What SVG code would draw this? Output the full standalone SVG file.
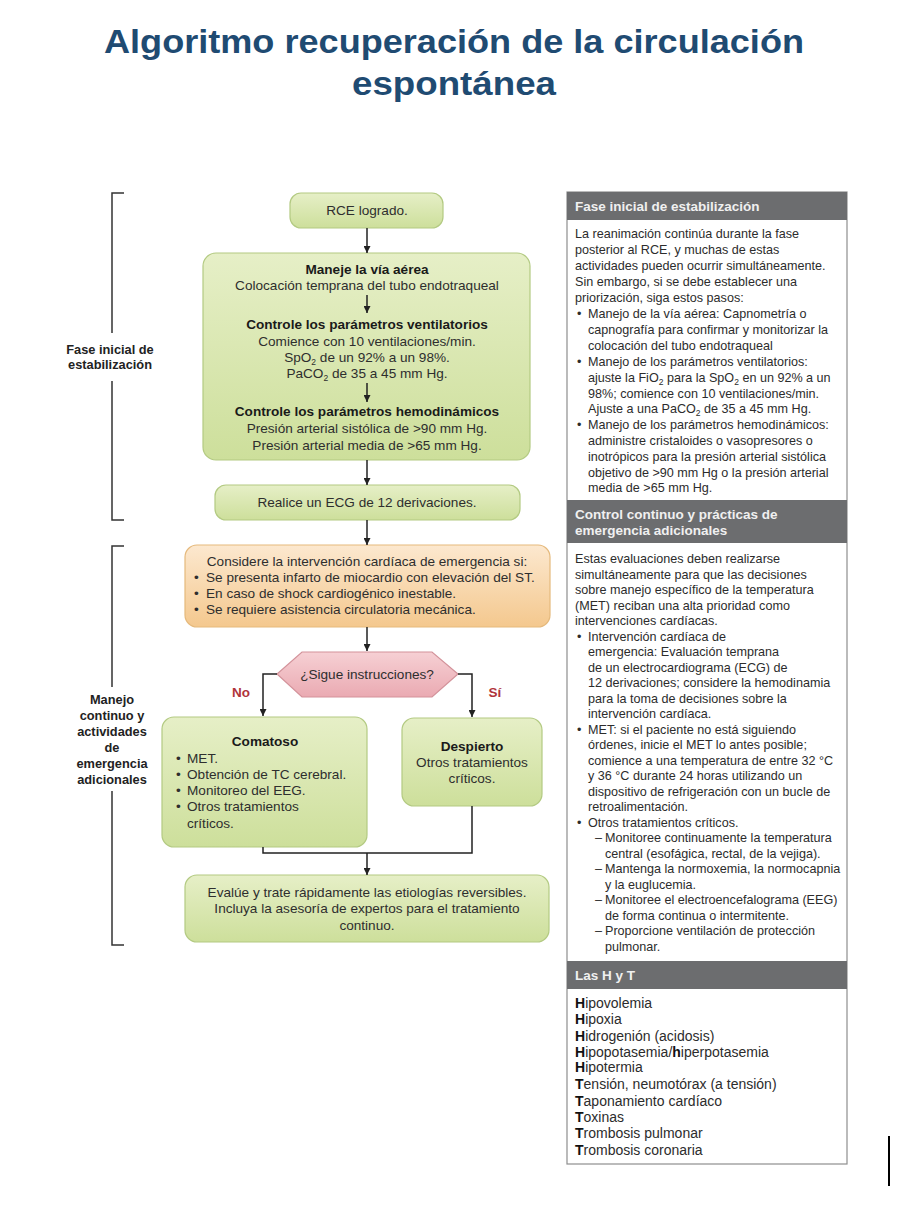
<svg xmlns="http://www.w3.org/2000/svg" width="922" height="1206" viewBox="0 0 922 1206">
<defs>
<style>
.t{font-family:"Liberation Sans",Arial,sans-serif;fill:#2e2e2e;font-size:13.6px}
.b{font-weight:bold;fill:#1a1a1a}
.c{text-anchor:middle}
.p{font-family:"Liberation Sans",Arial,sans-serif;fill:#2c2c2c;font-size:12.6px}
.ht{font-family:"Liberation Sans",Arial,sans-serif;fill:#2c2c2c;font-size:14px}
.hb{font-weight:bold;fill:#111}
.hd{font-family:"Liberation Sans",Arial,sans-serif;fill:#f0f0f0;font-size:13.5px;font-weight:bold}
.lbl{font-family:"Liberation Sans",Arial,sans-serif;fill:#222;font-size:12.8px;font-weight:bold;text-anchor:middle}
.sub{font-size:8.5px}
.conn{stroke:#222;stroke-width:1.5;fill:none}
.br{stroke:#333;stroke-width:1.5;fill:none}
.g{fill:url(#gg);stroke:#b3ca82;stroke-width:1.2}
.o{fill:url(#og);stroke:#e5b97c;stroke-width:1.2}
.k{fill:url(#pg);stroke:#d3929a;stroke-width:1.2}
.hdr{fill:#6c6d6f}
</style>
<linearGradient id="gg" x1="0" y1="0" x2="0" y2="1"><stop offset="0" stop-color="#e6efc7"/><stop offset="1" stop-color="#cddf9b"/></linearGradient>
<linearGradient id="og" x1="0" y1="0" x2="0" y2="1"><stop offset="0" stop-color="#fce8cf"/><stop offset="1" stop-color="#f4c88e"/></linearGradient>
<linearGradient id="pg" x1="0" y1="0" x2="0" y2="1"><stop offset="0" stop-color="#f6d0d4"/><stop offset="1" stop-color="#eaaab2"/></linearGradient>
<marker id="ah" viewBox="0 0 10 10" refX="10" refY="5" markerWidth="7" markerHeight="7" markerUnits="userSpaceOnUse" orient="auto"><path d="M0,0 L10,5 L0,10 z" fill="#222"/></marker>
</defs>
<rect width="922" height="1206" fill="#ffffff"/>

<g id="title" font-family="'Liberation Sans',Arial,sans-serif" font-weight="bold" font-size="33" fill="#1f4b72" text-anchor="middle">
<text x="454" y="53" textLength="700" lengthAdjust="spacingAndGlyphs">Algoritmo recuperación de la circulación</text>
<text x="454" y="95" textLength="204" lengthAdjust="spacingAndGlyphs">espontánea</text>
</g>

<g id="brackets">
<path class="br" d="M124,193 H112 V333 M112,381 V520 H124"/>
<text class="lbl" x="110" y="354">Fase inicial de</text>
<text class="lbl" x="110" y="369">estabilización</text>
<path class="br" d="M124,546 H112 V687 M112,791 V945 H124"/>
<text class="lbl" x="112" y="704">Manejo</text>
<text class="lbl" x="112" y="720">continuo y</text>
<text class="lbl" x="112" y="736">actividades</text>
<text class="lbl" x="112" y="752">de</text>
<text class="lbl" x="112" y="768">emergencia</text>
<text class="lbl" x="112" y="784">adicionales</text>
</g>

<g id="n-rce">
<rect class="g" x="290" y="193" width="153" height="35" rx="11"/>
<text class="t c" x="367" y="215">RCE logrado.</text>
</g>

<g id="n-manejo">
<rect class="g" x="203" y="253" width="327" height="207" rx="13"/>
<text class="t c b" x="367" y="274">Maneje la vía aérea</text>
<text class="t c" x="367" y="290">Colocación temprana del tubo endotraqueal</text>
<text class="t c b" x="367" y="329">Controle los parámetros ventilatorios</text>
<text class="t c" x="367" y="346">Comience con 10 ventilaciones/min.</text>
<text class="t c" x="367" y="362">SpO<tspan class="sub" dy="3">2</tspan><tspan dy="-3"> de un 92% a un 98%.</tspan></text>
<text class="t c" x="367" y="378">PaCO<tspan class="sub" dy="3">2</tspan><tspan dy="-3"> de 35 a 45 mm Hg.</tspan></text>
<text class="t c b" x="367" y="416">Controle los parámetros hemodinámicos</text>
<text class="t c" x="367" y="433">Presión arterial sistólica de &gt;90 mm Hg.</text>
<text class="t c" x="367" y="450">Presión arterial media de &gt;65 mm Hg.</text>
</g>

<g id="n-ecg">
<rect class="g" x="215" y="485" width="305" height="35" rx="11"/>
<text class="t c" x="367" y="507">Realice un ECG de 12 derivaciones.</text>
</g>

<g id="n-considere">
<rect class="o" x="185" y="545" width="365" height="82" rx="12"/>
<text class="t c" x="367" y="566">Considere la intervención cardíaca de emergencia si:</text>
<text class="t" x="194" y="582">•</text><text class="t" x="206" y="582">Se presenta infarto de miocardio con elevación del ST.</text>
<text class="t" x="194" y="598">•</text><text class="t" x="206" y="598">En caso de shock cardiogénico inestable.</text>
<text class="t" x="194" y="614">•</text><text class="t" x="206" y="614">Se requiere asistencia circulatoria mecánica.</text>
</g>

<g id="n-sigue">
<polygon class="k" points="302,652 432,652 458,674 432,697 302,697 277,674"/>
<text class="t c" x="367" y="679">¿Sigue instrucciones?</text>
</g>

<g id="n-comatoso">
<rect class="g" x="162" y="717" width="205" height="130" rx="12"/>
<text class="t c b" x="265" y="746">Comatoso</text>
<text class="t" x="176" y="763">•</text><text class="t" x="187" y="763">MET.</text>
<text class="t" x="176" y="779">•</text><text class="t" x="187" y="779">Obtención de TC cerebral.</text>
<text class="t" x="176" y="795">•</text><text class="t" x="187" y="795">Monitoreo del EEG.</text>
<text class="t" x="176" y="811">•</text><text class="t" x="187" y="811">Otros tratamientos</text>
<text class="t" x="187" y="828">críticos.</text>
</g>

<g id="n-despierto">
<rect class="g" x="402" y="718" width="140" height="88" rx="12"/>
<text class="t c b" x="472" y="751">Despierto</text>
<text class="t c" x="472" y="767">Otros tratamientos</text>
<text class="t c" x="472" y="783">críticos.</text>
</g>

<g id="n-evalue">
<rect class="g" x="185" y="875" width="364" height="67" rx="12"/>
<text class="t c" x="367" y="897">Evalúe y trate rápidamente las etiologías reversibles.</text>
<text class="t c" x="367" y="913">Incluya la asesoría de expertos para el tratamiento</text>
<text class="t c" x="367" y="930">continuo.</text>
</g>

<g id="connectors">
<line class="conn" x1="367" y1="228" x2="367" y2="253" marker-end="url(#ah)"/>
<line class="conn" x1="367" y1="295" x2="367" y2="313" marker-end="url(#ah)"/>
<line class="conn" x1="367" y1="383" x2="367" y2="402" marker-end="url(#ah)"/>
<line class="conn" x1="367" y1="460" x2="367" y2="485" marker-end="url(#ah)"/>
<line class="conn" x1="367" y1="520" x2="367" y2="545" marker-end="url(#ah)"/>
<line class="conn" x1="367" y1="627" x2="367" y2="651" marker-end="url(#ah)"/>
<path class="conn" d="M277,674 H263 V716" marker-end="url(#ah)"/>
<path class="conn" d="M458,674 H472 V717" marker-end="url(#ah)"/>
<path class="conn" d="M263,847 V853 H472 V806"/>
<line class="conn" x1="367" y1="853" x2="367" y2="875" marker-end="url(#ah)"/>
<text x="241" y="697" font-family="'Liberation Sans',Arial,sans-serif" font-size="13.5" font-weight="bold" fill="#b0333a" text-anchor="middle">No</text>
<text x="495" y="697" font-family="'Liberation Sans',Arial,sans-serif" font-size="13.5" font-weight="bold" fill="#b0333a" text-anchor="middle">Sí</text>
</g>

<g id="panel">
<rect x="567" y="192" width="280" height="972" fill="#ffffff" stroke="#8e8e8e" stroke-width="1.2"/>
<rect class="hdr" x="567" y="192" width="280" height="28"/>
<text class="hd" x="575" y="211">Fase inicial de estabilización</text>
<g class="p">
<text x="575" y="238">La reanimación continúa durante la fase</text>
<text x="575" y="254">posterior al RCE, y muchas de estas</text>
<text x="575" y="270">actividades pueden ocurrir simultáneamente.</text>
<text x="575" y="286">Sin embargo, si se debe establecer una</text>
<text x="575" y="302">priorización, siga estos pasos:</text>
<text x="577" y="318">•</text><text x="588" y="318">Manejo de la vía aérea: Capnometría o</text>
<text x="588" y="334">capnografía para confirmar y monitorizar la</text>
<text x="588" y="350">colocación del tubo endotraqueal</text>
<text x="577" y="366">•</text><text x="588" y="366">Manejo de los parámetros ventilatorios:</text>
<text x="588" y="382">ajuste la FiO<tspan class="sub" dy="3">2</tspan><tspan dy="-3"> para la SpO</tspan><tspan class="sub" dy="3">2</tspan><tspan dy="-3"> en un 92% a un</tspan></text>
<text x="588" y="398">98%; comience con 10 ventilaciones/min.</text>
<text x="588" y="413">Ajuste a una PaCO<tspan class="sub" dy="3">2</tspan><tspan dy="-3"> de 35 a 45 mm Hg.</tspan></text>
<text x="577" y="429">•</text><text x="588" y="429">Manejo de los parámetros hemodinámicos:</text>
<text x="588" y="445">administre cristaloides o vasopresores o</text>
<text x="588" y="461">inotrópicos para la presión arterial sistólica</text>
<text x="588" y="477">objetivo de &gt;90 mm Hg o la presión arterial</text>
<text x="588" y="492">media de &gt;65 mm Hg.</text>
</g>
<rect class="hdr" x="567" y="500" width="280" height="43"/>
<text class="hd" x="575" y="519">Control continuo y prácticas de</text>
<text class="hd" x="575" y="535">emergencia adicionales</text>
<g class="p">
<text x="575" y="563">Estas evaluaciones deben realizarse</text>
<text x="575" y="579">simultáneamente para que las decisiones</text>
<text x="575" y="594">sobre manejo específico de la temperatura</text>
<text x="575" y="610">(MET) reciban una alta prioridad como</text>
<text x="575" y="625">intervenciones cardíacas.</text>
<text x="577" y="641">•</text><text x="588" y="641">Intervención cardíaca de</text>
<text x="588" y="656">emergencia: Evaluación temprana</text>
<text x="588" y="672">de un electrocardiograma (ECG) de</text>
<text x="588" y="687">12 derivaciones; considere la hemodinamia</text>
<text x="588" y="703">para la toma de decisiones sobre la</text>
<text x="588" y="718">intervención cardíaca.</text>
<text x="577" y="734">•</text><text x="588" y="734">MET: si el paciente no está siguiendo</text>
<text x="588" y="749">órdenes, inicie el MET lo antes posible;</text>
<text x="588" y="765">comience a una temperatura de entre 32 °C</text>
<text x="588" y="780">y 36 °C durante 24 horas utilizando un</text>
<text x="588" y="796">dispositivo de refrigeración con un bucle de</text>
<text x="588" y="811">retroalimentación.</text>
<text x="577" y="827">•</text><text x="588" y="827">Otros tratamientos críticos.</text>
<text x="595" y="842">–</text><text x="605" y="842">Monitoree continuamente la temperatura</text>
<text x="605" y="858">central (esofágica, rectal, de la vejiga).</text>
<text x="595" y="873">–</text><text x="605" y="873">Mantenga la normoxemia, la normocapnia</text>
<text x="605" y="889">y la euglucemia.</text>
<text x="595" y="904">–</text><text x="605" y="904">Monitoree el electroencefalograma (EEG)</text>
<text x="605" y="920">de forma continua o intermitente.</text>
<text x="595" y="935">–</text><text x="605" y="935">Proporcione ventilación de protección</text>
<text x="605" y="951">pulmonar.</text>
</g>
<rect class="hdr" x="567" y="961" width="280" height="28"/>
<text class="hd" x="575" y="980">Las H y T</text>
<g class="ht">
<text x="575" y="1008"><tspan class="hb">H</tspan>ipovolemia</text>
<text x="575" y="1024"><tspan class="hb">H</tspan>ipoxia</text>
<text x="575" y="1041"><tspan class="hb">H</tspan>idrogenión (acidosis)</text>
<text x="575" y="1057"><tspan class="hb">H</tspan>ipopotasemia/<tspan class="hb">h</tspan>iperpotasemia</text>
<text x="575" y="1072"><tspan class="hb">H</tspan>ipotermia</text>
<text x="575" y="1089"><tspan class="hb">T</tspan>ensión, neumotórax (a tensión)</text>
<text x="575" y="1106"><tspan class="hb">T</tspan>aponamiento cardíaco</text>
<text x="575" y="1122"><tspan class="hb">T</tspan>oxinas</text>
<text x="575" y="1138"><tspan class="hb">T</tspan>rombosis pulmonar</text>
<text x="575" y="1155"><tspan class="hb">T</tspan>rombosis coronaria</text>
</g>
</g>

<line x1="889" y1="1136" x2="889" y2="1186" stroke="#000" stroke-width="2"/>
</svg>
